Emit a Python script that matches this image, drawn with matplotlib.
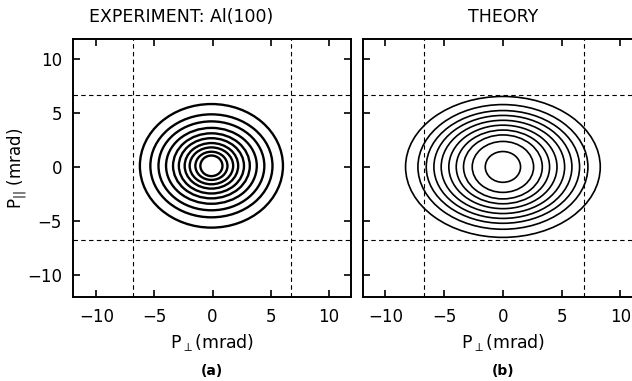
import matplotlib
matplotlib.use("Agg")
import matplotlib.pyplot as plt
from matplotlib.patches import Ellipse

# experiment contours: semi-axes (mrad) and centre
exp_a = [6.15, 5.25, 4.55, 3.9, 3.3, 2.8, 2.3, 1.87, 1.38, 0.95]
exp_b = [5.7, 4.75, 4.1, 3.5, 3.0, 2.55, 2.1, 1.7, 1.3, 0.95]
exp_center = (-0.1, 0.1)

# theory contours
th_a = [8.28, 7.23, 6.52, 5.87, 5.25, 4.6, 3.97, 3.35, 2.61, 1.5]
th_b = [6.5, 5.75, 5.2, 4.75, 4.3, 3.85, 3.4, 2.95, 2.35, 1.42]
th_center = (0.0, 0.0)

# dashed guide lines (mrad)
exp_vlines = [-6.8, 6.7]
th_vlines = [-6.7, 6.9]
hlines = [6.6, -6.7]

ticks = [-10, -5, 0, 5, 10]
tick_labels = ['\u221210', '\u22125', '0', '5', '10']

plt.rcParams['font.family'] = ['DejaVu Sans']
fig = plt.figure(figsize=(6.32, 3.81), dpi=100)
ax1 = fig.add_axes([73/632, 84/381, 278/632, 258/381])
ax2 = fig.add_axes([363/632, 84/381, 281/632, 258/381])

def panel(ax, a_list, b_list, center, vl, lw, xlim):
    for a, b in zip(a_list, b_list):
        ax.add_patch(Ellipse(center, 2*a, 2*b, fill=False, lw=lw, ec='black'))
    for x in vl:
        ax.axvline(x, color='black', lw=0.8, ls=(0, (4, 3)))
    for y in hlines:
        ax.axhline(y, color='black', lw=0.8, ls=(0, (4, 3)))
    ax.set_xlim(*xlim)
    ax.set_ylim(-12, 11.8)
    ax.set_xticks(ticks)
    ax.set_yticks(ticks)
    ax.tick_params(direction='in', top=True, right=True, length=5, width=1.2,
                   labelsize=12, pad=8)
    ax.set_xticklabels(tick_labels)
    for s in ax.spines.values():
        s.set_linewidth(1.4)
    ax.set_xlabel(r'P$_{\perp}$(mrad)', fontsize=12.5, labelpad=4)

panel(ax1, exp_a, exp_b, exp_center, exp_vlines, 1.7, (-12, 11.9))
panel(ax2, th_a, th_b, th_center, th_vlines, 1.2, (-11.9, 12))

ax1.set_yticklabels(tick_labels)
ax2.set_yticklabels([])
ax1.set_ylabel(r'P$_{||}$ (mrad)', fontsize=12)
ax1.yaxis.set_label_coords(-0.16, 0.5)

ax1.set_title('EXPERIMENT: Al(100)', fontsize=12.5, pad=12, x=0.39)
ax2.set_title('THEORY', fontsize=12.5, pad=12)

fig.text(212/632, 1 - 371/381, '(a)', fontsize=10, fontweight='bold', ha='center', va='center')
fig.text(503/632, 1 - 371/381, '(b)', fontsize=10, fontweight='bold', ha='center', va='center')

fig.savefig('out.png', dpi=100)
